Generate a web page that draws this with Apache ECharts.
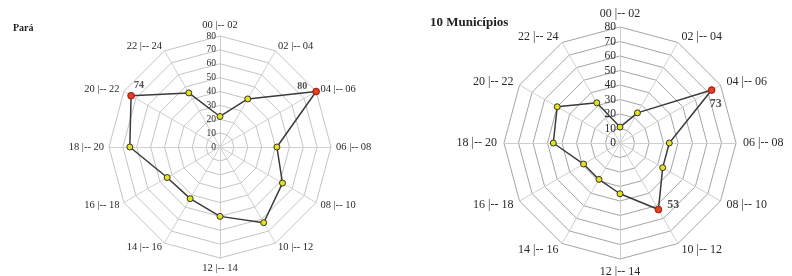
<!DOCTYPE html>
<html>
<head>
<meta charset="utf-8">
<script src="https://cdn.jsdelivr.net/npm/echarts@6/dist/echarts.min.js"></script>
<style>
  html, body { margin: 0; padding: 0; background: #fff; }
  #chart { width: 792px; height: 276px; }
</style>
</head>
<body>
<div id="chart"></div>
<script>
// two-hour time slots, clockwise from the top
const slots = ["00 |-- 02", "02 |-- 04", "04 |-- 06", "06 |-- 08", "08 |-- 10", "10 |-- 12",
  "12 |-- 14", "14 |-- 16", "16 |-- 18", "18 |-- 20", "20 |-- 22", "22 |-- 24"];

const paraValues = [22, 40, 80, 41, 52, 63, 50, 43, 44, 65, 74, 45];
const municipiosValues = [11, 24, 73, 34, 34, 53, 35, 29, 29, 46, 50, 32];

// which slots get the red, labelled point
const paraPeaks = [2, 10];
const municipiosPeaks = [2, 5];

const ringMax = 80;
const ringSplits = 8;

const serif = "Liberation Serif";

// radar goes counter-clockwise, so feed it the slots in reverse (keeping 00 on top)
const order = [0].concat(slots.map((s, i) => i).slice(1).reverse());

function makeRadar(center, radius, nameSize, labelSize, ringColor, nameGap) {
  return {
    center: center,
    radius: radius,
    shape: "polygon",
    startAngle: 90,
    splitNumber: ringSplits,
    nameGap: nameGap,
    indicator: order.map((i) => ({
      name: slots[i],
      min: 0,
      max: ringMax,
      axisLabel: { show: i === 0 },
    })),
    axisName: { color: "#2a2a2a", fontFamily: serif, fontSize: nameSize },
    axisLine: { lineStyle: { color: "#cfcfcf", width: 1 } },
    axisTick: { show: false },
    axisLabel: { show: false, color: "#2a2a2a", fontFamily: serif, fontSize: labelSize, margin: 4 },
    splitLine: { lineStyle: { color: ringColor, width: 1 } },
    splitArea: { show: false },
  };
}

function hiddenAngle(polarIndex) {
  return {
    polarIndex: polarIndex,
    type: "category",
    data: slots,
    startAngle: 90,
    clockwise: true,
    boundaryGap: false,
    axisLine: { show: false },
    axisTick: { show: false },
    axisLabel: { show: false },
    splitLine: { show: false },
  };
}

function hiddenRadius(polarIndex) {
  return {
    polarIndex: polarIndex,
    min: 0,
    max: ringMax,
    axisLine: { show: false },
    axisTick: { show: false },
    axisLabel: { show: false },
    splitLine: { show: false },
  };
}

function radarSeries(radarIndex, values) {
  return {
    type: "radar",
    radarIndex: radarIndex,
    symbol: "circle",
    symbolSize: 6,
    itemStyle: { color: "#e6e21a", borderColor: "#333", borderWidth: 1 },
    lineStyle: { color: "#3a3a3a", width: 1.5 },
    data: [{ value: order.map((i) => values[i]) }],
    silent: true,
    z: 3,
  };
}

function peakSeries(polarIndex, values, peaks, labelPos) {
  return {
    type: "scatter",
    coordinateSystem: "polar",
    polarIndex: polarIndex,
    symbolSize: 7,
    itemStyle: { color: "#e41d1d", borderColor: "#8a1010", borderWidth: 0.6 },
    data: peaks.map((p, k) => ({
      value: [values[p], slots[p]],
      label: Object.assign(
        { show: true, fontFamily: serif, fontWeight: "bold", color: "#222" },
        labelPos[k]
      ),
    })),
    silent: true,
    z: 5,
  };
}

const chart = echarts.init(document.getElementById("chart"));
chart.setOption({
  animation: false,
  title: [
    {
      text: "Pará",
      left: 8,
      top: 18,
      textStyle: { fontFamily: serif, fontSize: 10, fontWeight: "bold", color: "#222" },
    },
    {
      text: "10 Municípios",
      left: 425,
      top: 11,
      textStyle: { fontFamily: serif, fontSize: 13, fontWeight: "bold", color: "#222" },
    },
  ],
  radar: [
    makeRadar([220, 147], 111, 10.5, 9.5, "#c4c4c4", 5),
    makeRadar([620, 143], 116, 12, 11.5, "#a4a4a4", 7),
  ],
  polar: [
    { center: [220, 147], radius: 111 },
    { center: [620, 143], radius: 116 },
  ],
  angleAxis: [hiddenAngle(0), hiddenAngle(1)],
  radiusAxis: [hiddenRadius(0), hiddenRadius(1)],
  series: [
    radarSeries(0, paraValues),
    radarSeries(1, municipiosValues),
    peakSeries(0, paraValues, paraPeaks, [
      { position: "left", offset: [0, -5], fontSize: 10 },
      { position: "top", offset: [8, 4], fontSize: 10 },
    ]),
    peakSeries(1, municipiosValues, municipiosPeaks, [
      { position: "bottom", offset: [4, -1], fontSize: 12 },
      { position: "right", offset: [0, -5], fontSize: 12 },
    ]),
  ],
});
</script>
</body>
</html>
